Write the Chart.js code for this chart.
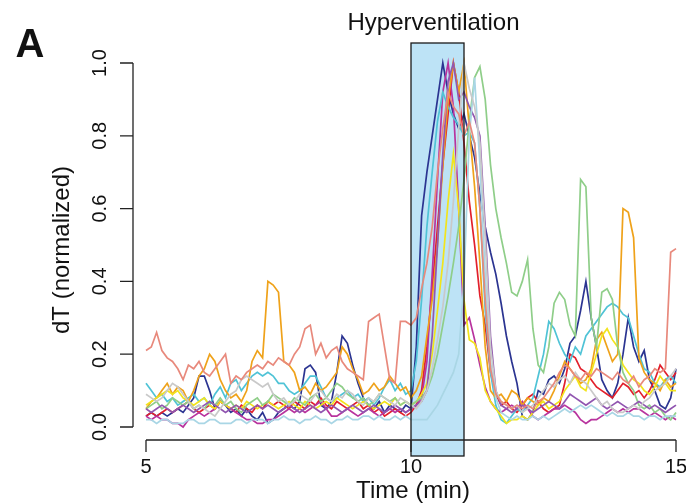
<!DOCTYPE html>
<html><head><meta charset="utf-8">
<script src="https://cdn.jsdelivr.net/npm/chart.js@4"></script>
<style>html,body{margin:0;padding:0;background:#fff}#wrap{width:686px;height:504px}</style>
</head><body><div id="wrap"><canvas id="c" width="686" height="504"></canvas></div>
<script>
// ---- data (time in minutes, dT normalized) ----
const times = [5.0,5.1,5.2,5.3,5.4,5.5,5.6,5.7,5.8,5.9,6.0,6.1,6.2,6.3,6.4,6.5,6.6,6.7,6.8,6.9,7.0,7.1,7.2,7.3,7.4,7.5,7.6,7.7,7.8,7.9,8.0,8.1,8.2,8.3,8.4,8.5,8.6,8.7,8.8,8.9,9.0,9.1,9.2,9.3,9.4,9.5,9.6,9.7,9.8,9.9,10.0,10.1,10.2,10.3,10.4,10.5,10.6,10.7,10.8,10.9,11.0,11.1,11.2,11.3,11.4,11.5,11.6,11.7,11.8,11.9,12.0,12.1,12.2,12.3,12.4,12.5,12.6,12.7,12.8,12.9,13.0,13.1,13.2,13.3,13.4,13.5,13.6,13.7,13.8,13.9,14.0,14.1,14.2,14.3,14.4,14.5,14.6,14.7,14.8,14.9,15.0];

const cellSalmon = [0.21,0.22,0.26,0.21,0.19,0.18,0.16,0.13,0.17,0.16,0.18,0.15,0.14,0.16,0.18,0.20,0.12,0.14,0.13,0.15,0.16,0.17,0.16,0.18,0.17,0.19,0.18,0.17,0.20,0.22,0.27,0.28,0.20,0.23,0.19,0.21,0.22,0.18,0.16,0.15,0.14,0.13,0.29,0.30,0.31,0.22,0.13,0.12,0.29,0.29,0.28,0.30,0.38,0.45,0.55,0.70,0.82,0.92,0.88,0.86,0.80,0.84,0.78,0.60,0.35,0.16,0.09,0.07,0.06,0.05,0.06,0.05,0.06,0.05,0.07,0.08,0.10,0.12,0.15,0.17,0.16,0.14,0.13,0.15,0.14,0.16,0.15,0.14,0.13,0.15,0.13,0.12,0.14,0.11,0.13,0.14,0.16,0.15,0.16,0.48,0.49];
const cellOrange = [0.05,0.07,0.08,0.10,0.12,0.09,0.11,0.10,0.07,0.10,0.14,0.16,0.20,0.18,0.13,0.10,0.08,0.09,0.07,0.10,0.18,0.21,0.19,0.40,0.39,0.37,0.18,0.17,0.15,0.10,0.11,0.09,0.12,0.10,0.11,0.13,0.15,0.22,0.20,0.16,0.13,0.09,0.10,0.12,0.10,0.11,0.14,0.12,0.10,0.11,0.08,0.10,0.14,0.25,0.35,0.50,0.72,0.90,1.00,0.92,1.00,0.82,0.66,0.45,0.22,0.10,0.08,0.09,0.07,0.10,0.09,0.06,0.08,0.07,0.06,0.08,0.07,0.10,0.14,0.18,0.16,0.14,0.12,0.13,0.16,0.24,0.26,0.22,0.18,0.20,0.60,0.59,0.52,0.19,0.15,0.13,0.12,0.10,0.13,0.11,0.12];
const cellNavy = [0.03,0.04,0.03,0.04,0.03,0.04,0.05,0.04,0.06,0.08,0.14,0.14,0.10,0.05,0.07,0.06,0.04,0.05,0.03,0.05,0.03,0.02,0.04,0.01,0.02,0.04,0.05,0.06,0.05,0.07,0.16,0.17,0.15,0.06,0.05,0.07,0.15,0.25,0.23,0.17,0.12,0.08,0.06,0.05,0.07,0.04,0.06,0.05,0.04,0.06,0.05,0.22,0.58,0.70,0.80,0.90,1.00,0.92,0.86,0.82,0.86,0.80,0.74,0.64,0.55,0.48,0.42,0.34,0.25,0.18,0.12,0.03,0.02,0.04,0.10,0.09,0.13,0.14,0.12,0.16,0.23,0.25,0.32,0.40,0.30,0.22,0.13,0.10,0.08,0.12,0.20,0.30,0.22,0.18,0.21,0.13,0.10,0.06,0.05,0.08,0.16];
const cellCyan = [0.12,0.10,0.08,0.09,0.07,0.08,0.06,0.07,0.08,0.09,0.07,0.08,0.06,0.09,0.11,0.08,0.12,0.13,0.10,0.12,0.14,0.15,0.14,0.15,0.14,0.12,0.12,0.10,0.09,0.10,0.12,0.14,0.14,0.11,0.08,0.07,0.08,0.09,0.10,0.08,0.09,0.07,0.08,0.06,0.08,0.11,0.13,0.10,0.12,0.09,0.10,0.18,0.35,0.55,0.70,0.84,0.92,0.88,0.85,0.83,0.80,0.81,0.78,0.60,0.32,0.15,0.06,0.02,0.01,0.03,0.05,0.04,0.06,0.08,0.14,0.20,0.29,0.27,0.23,0.20,0.18,0.22,0.20,0.25,0.27,0.29,0.31,0.33,0.34,0.33,0.31,0.30,0.25,0.20,0.16,0.15,0.12,0.11,0.13,0.14,0.12];
const cellLightGreen = [0.05,0.06,0.07,0.05,0.06,0.08,0.07,0.06,0.07,0.05,0.06,0.05,0.07,0.06,0.08,0.06,0.07,0.05,0.04,0.06,0.07,0.08,0.06,0.07,0.09,0.08,0.07,0.06,0.08,0.07,0.06,0.08,0.09,0.07,0.08,0.10,0.12,0.11,0.09,0.08,0.07,0.08,0.06,0.07,0.09,0.08,0.07,0.08,0.06,0.07,0.06,0.07,0.08,0.10,0.14,0.20,0.28,0.36,0.45,0.55,0.68,0.84,0.96,0.99,0.90,0.72,0.60,0.52,0.45,0.37,0.36,0.40,0.46,0.27,0.17,0.15,0.22,0.34,0.37,0.35,0.28,0.25,0.68,0.66,0.30,0.22,0.37,0.38,0.35,0.22,0.15,0.12,0.10,0.06,0.05,0.06,0.04,0.05,0.03,0.02,0.04];
const cellYellow = [0.06,0.07,0.08,0.09,0.10,0.09,0.10,0.08,0.07,0.06,0.07,0.08,0.06,0.05,0.07,0.06,0.05,0.06,0.05,0.07,0.06,0.05,0.06,0.07,0.06,0.05,0.06,0.07,0.06,0.05,0.07,0.06,0.05,0.06,0.07,0.06,0.08,0.07,0.06,0.05,0.06,0.07,0.06,0.05,0.06,0.07,0.06,0.08,0.06,0.07,0.06,0.07,0.09,0.12,0.20,0.32,0.45,0.62,0.75,0.60,0.35,0.24,0.23,0.19,0.10,0.07,0.05,0.03,0.01,0.02,0.02,0.03,0.02,0.04,0.06,0.07,0.05,0.06,0.07,0.10,0.12,0.14,0.11,0.10,0.15,0.20,0.25,0.27,0.24,0.22,0.17,0.15,0.13,0.12,0.10,0.09,0.11,0.14,0.12,0.10,0.10];
const cellRed = [0.03,0.04,0.03,0.04,0.05,0.04,0.05,0.06,0.07,0.05,0.04,0.05,0.06,0.05,0.07,0.06,0.05,0.04,0.06,0.05,0.04,0.06,0.05,0.07,0.06,0.07,0.06,0.05,0.07,0.06,0.05,0.07,0.06,0.08,0.06,0.05,0.07,0.06,0.05,0.06,0.07,0.05,0.06,0.04,0.05,0.03,0.04,0.05,0.04,0.03,0.04,0.06,0.10,0.22,0.38,0.55,0.72,0.86,1.00,0.92,0.78,0.62,0.50,0.36,0.28,0.15,0.09,0.06,0.07,0.05,0.04,0.06,0.08,0.09,0.07,0.05,0.04,0.05,0.06,0.12,0.20,0.19,0.16,0.15,0.13,0.11,0.10,0.09,0.08,0.10,0.12,0.11,0.09,0.10,0.08,0.10,0.13,0.17,0.15,0.13,0.15];
const cellMagenta = [0.03,0.02,0.03,0.02,0.02,0.01,0.01,0.00,0.02,0.03,0.04,0.03,0.04,0.05,0.07,0.06,0.05,0.04,0.03,0.02,0.02,0.01,0.01,0.02,0.02,0.03,0.04,0.05,0.04,0.05,0.04,0.05,0.06,0.07,0.05,0.03,0.03,0.04,0.05,0.04,0.03,0.04,0.05,0.04,0.03,0.04,0.05,0.04,0.05,0.04,0.05,0.06,0.08,0.18,0.42,0.68,0.92,1.00,0.88,0.60,0.28,0.30,0.24,0.17,0.11,0.07,0.05,0.04,0.05,0.06,0.05,0.07,0.05,0.03,0.02,0.03,0.04,0.05,0.05,0.06,0.05,0.04,0.02,0.01,0.02,0.02,0.03,0.04,0.05,0.04,0.05,0.04,0.05,0.05,0.04,0.03,0.04,0.03,0.02,0.03,0.02];
const cellLightBlue = [0.02,0.02,0.01,0.02,0.02,0.01,0.01,0.01,0.02,0.02,0.01,0.01,0.02,0.02,0.01,0.01,0.01,0.02,0.02,0.01,0.02,0.02,0.02,0.01,0.02,0.02,0.03,0.02,0.02,0.01,0.02,0.02,0.03,0.02,0.02,0.01,0.02,0.02,0.03,0.02,0.02,0.03,0.03,0.02,0.03,0.02,0.02,0.03,0.02,0.03,0.02,0.02,0.02,0.02,0.04,0.06,0.09,0.12,0.15,0.20,0.40,0.80,0.96,0.72,0.42,0.18,0.08,0.04,0.03,0.02,0.03,0.02,0.02,0.03,0.02,0.03,0.02,0.03,0.04,0.05,0.04,0.05,0.06,0.05,0.06,0.05,0.04,0.03,0.04,0.03,0.03,0.04,0.03,0.03,0.02,0.03,0.03,0.02,0.03,0.03,0.03];
const cellGray = [0.09,0.08,0.07,0.08,0.10,0.12,0.11,0.09,0.07,0.05,0.06,0.05,0.04,0.03,0.05,0.07,0.09,0.10,0.13,0.14,0.13,0.12,0.11,0.12,0.09,0.07,0.08,0.06,0.07,0.09,0.08,0.07,0.09,0.10,0.08,0.07,0.09,0.08,0.10,0.09,0.07,0.06,0.08,0.07,0.09,0.08,0.07,0.06,0.08,0.07,0.06,0.05,0.07,0.10,0.16,0.24,0.33,0.45,0.62,0.82,1.00,0.93,0.88,0.78,0.52,0.22,0.10,0.07,0.06,0.05,0.06,0.04,0.05,0.06,0.08,0.10,0.12,0.11,0.13,0.14,0.12,0.15,0.13,0.12,0.10,0.08,0.06,0.07,0.05,0.04,0.04,0.05,0.06,0.05,0.07,0.08,0.10,0.11,0.12,0.14,0.16];
const cellViolet = [0.05,0.04,0.05,0.06,0.05,0.04,0.05,0.06,0.05,0.04,0.05,0.06,0.07,0.06,0.05,0.04,0.05,0.06,0.05,0.04,0.05,0.06,0.05,0.06,0.05,0.04,0.05,0.06,0.05,0.04,0.05,0.06,0.05,0.04,0.05,0.06,0.05,0.04,0.05,0.06,0.05,0.04,0.05,0.06,0.05,0.04,0.05,0.06,0.05,0.04,0.05,0.06,0.07,0.10,0.25,0.50,0.75,0.95,1.00,0.90,0.92,0.88,0.85,0.80,0.55,0.25,0.10,0.06,0.05,0.04,0.05,0.06,0.05,0.04,0.05,0.06,0.07,0.06,0.05,0.07,0.09,0.08,0.07,0.06,0.07,0.08,0.06,0.05,0.06,0.07,0.06,0.05,0.06,0.07,0.06,0.05,0.06,0.05,0.04,0.05,0.06];

const seriesNames = ['cell 1','cell 2','cell 3','cell 4','cell 5','cell 6','cell 7','cell 8','cell 9','cell 10','cell 11'];
const seriesValues = [cellSalmon, cellGray, cellLightBlue, cellViolet, cellLightGreen, cellYellow, cellOrange, cellCyan, cellMagenta, cellRed, cellNavy];
const seriesColors = ['#e8897c','#c9c9c9','#a9d6e5','#9156b0','#8fce89','#f2e41c','#efa21a','#4fc3d6','#b8339e','#e2202c','#2b3491'];

const xTickValues = [5, 10, 15];
const xTickLabels = ['5', '10', '15'];
const yTickValues = [0, 0.2, 0.4, 0.6, 0.8, 1.0];
const yTickLabels = ['0.0', '0.2', '0.4', '0.6', '0.8', '1.0'];
const hyperStart = 10, hyperEnd = 11;
const hyperLabel = 'Hyperventilation';
const xTitle = 'Time (min)';
const yTitle = 'dT (normalized)';
const panelLabel = 'A';

const FONT = '"Liberation Sans", Arial, Helvetica, sans-serif';

const rPlot = {
  id: 'rPlot',
  beforeDatasetsDraw(chart) {
    const {ctx, scales: {x, y}} = chart;
    const x0 = x.getPixelForValue(hyperStart), x1 = x.getPixelForValue(hyperEnd);
    const top = y.getPixelForValue(1) - 20, bot = y.getPixelForValue(0) + 29;
    ctx.save();
    ctx.fillStyle = '#bde3f6';
    ctx.fillRect(x0, top, x1 - x0, bot - top);
    ctx.restore();
  },
  afterDatasetsDraw(chart) {
    const {ctx, scales: {x, y}} = chart;
    ctx.save();
    const x0 = x.getPixelForValue(hyperStart), x1 = x.getPixelForValue(hyperEnd);
    const top = y.getPixelForValue(1) - 20, bot = y.getPixelForValue(0) + 29;
    ctx.strokeStyle = '#1a1a1a';
    ctx.lineWidth = 1.3;
    ctx.strokeRect(x0, top, x1 - x0, bot - top);

    ctx.strokeStyle = '#222';
    ctx.fillStyle = '#111';
    ctx.lineWidth = 1.3;
    // y axis
    const ax = x.left - 13;
    const yA = y.getPixelForValue(yTickValues[0]), yB = y.getPixelForValue(yTickValues[yTickValues.length - 1]);
    ctx.beginPath();
    ctx.moveTo(ax, yA); ctx.lineTo(ax, yB);
    yTickValues.forEach(v => { const p = y.getPixelForValue(v); ctx.moveTo(ax, p); ctx.lineTo(ax - 13, p); });
    ctx.stroke();
    ctx.font = '20px ' + FONT;
    ctx.textAlign = 'center';
    ctx.textBaseline = 'middle';
    yTickValues.forEach((v, i) => {
      const p = y.getPixelForValue(v);
      ctx.save(); ctx.translate(ax - 33, p); ctx.rotate(-Math.PI / 2);
      ctx.fillText(yTickLabels[i], 0, 0); ctx.restore();
    });
    // x axis
    const ay = y.getPixelForValue(0) + 13;
    const xA = x.getPixelForValue(xTickValues[0]), xB = x.getPixelForValue(xTickValues[xTickValues.length - 1]);
    ctx.beginPath();
    ctx.moveTo(xA, ay); ctx.lineTo(xB, ay);
    xTickValues.forEach(v => { const p = x.getPixelForValue(v); ctx.moveTo(p, ay); ctx.lineTo(p, ay + 12); });
    ctx.stroke();
    ctx.font = '20px ' + FONT;
    xTickValues.forEach((v, i) => ctx.fillText(xTickLabels[i], x.getPixelForValue(v), ay + 27));
    // axis titles
    ctx.font = '24px ' + FONT;
    ctx.fillText(xTitle, (xA + xB) / 2 + 2, ay + 51);
    ctx.save(); ctx.translate(ax - 71, (yA + yB) / 2 + 5); ctx.rotate(-Math.PI / 2);
    ctx.fillText(yTitle, 0, 0); ctx.restore();
    // label above box
    ctx.font = '24px ' + FONT;
    ctx.fillText(hyperLabel, (x0 + x1) / 2 - 4, top - 20);
    // panel letter
    ctx.font = 'bold 40px ' + FONT;
    ctx.fillText(panelLabel, 30, 46);
    ctx.restore();
  }
};

new Chart(document.getElementById('c'), {
  type: 'line',
  data: {
    datasets: seriesValues.map((vals, k) => ({
      label: seriesNames[k],
      data: times.map((t, i) => ({x: t, y: vals[i]})),
      borderColor: seriesColors[k],
      borderWidth: 1.7,
      pointRadius: 0,
      tension: 0,
      fill: false,
      clip: false
    }))
  },
  options: {
    responsive: false,
    animation: false,
    layout: {padding: {left: 146, right: 10, top: 63, bottom: 77}},
    scales: {
      x: {type: 'linear', min: 5, max: 15, display: false},
      y: {min: 0, max: 1, display: false}
    },
    plugins: {legend: {display: false}, tooltip: {enabled: false}}
  },
  plugins: [rPlot]
});
</script></body></html>
